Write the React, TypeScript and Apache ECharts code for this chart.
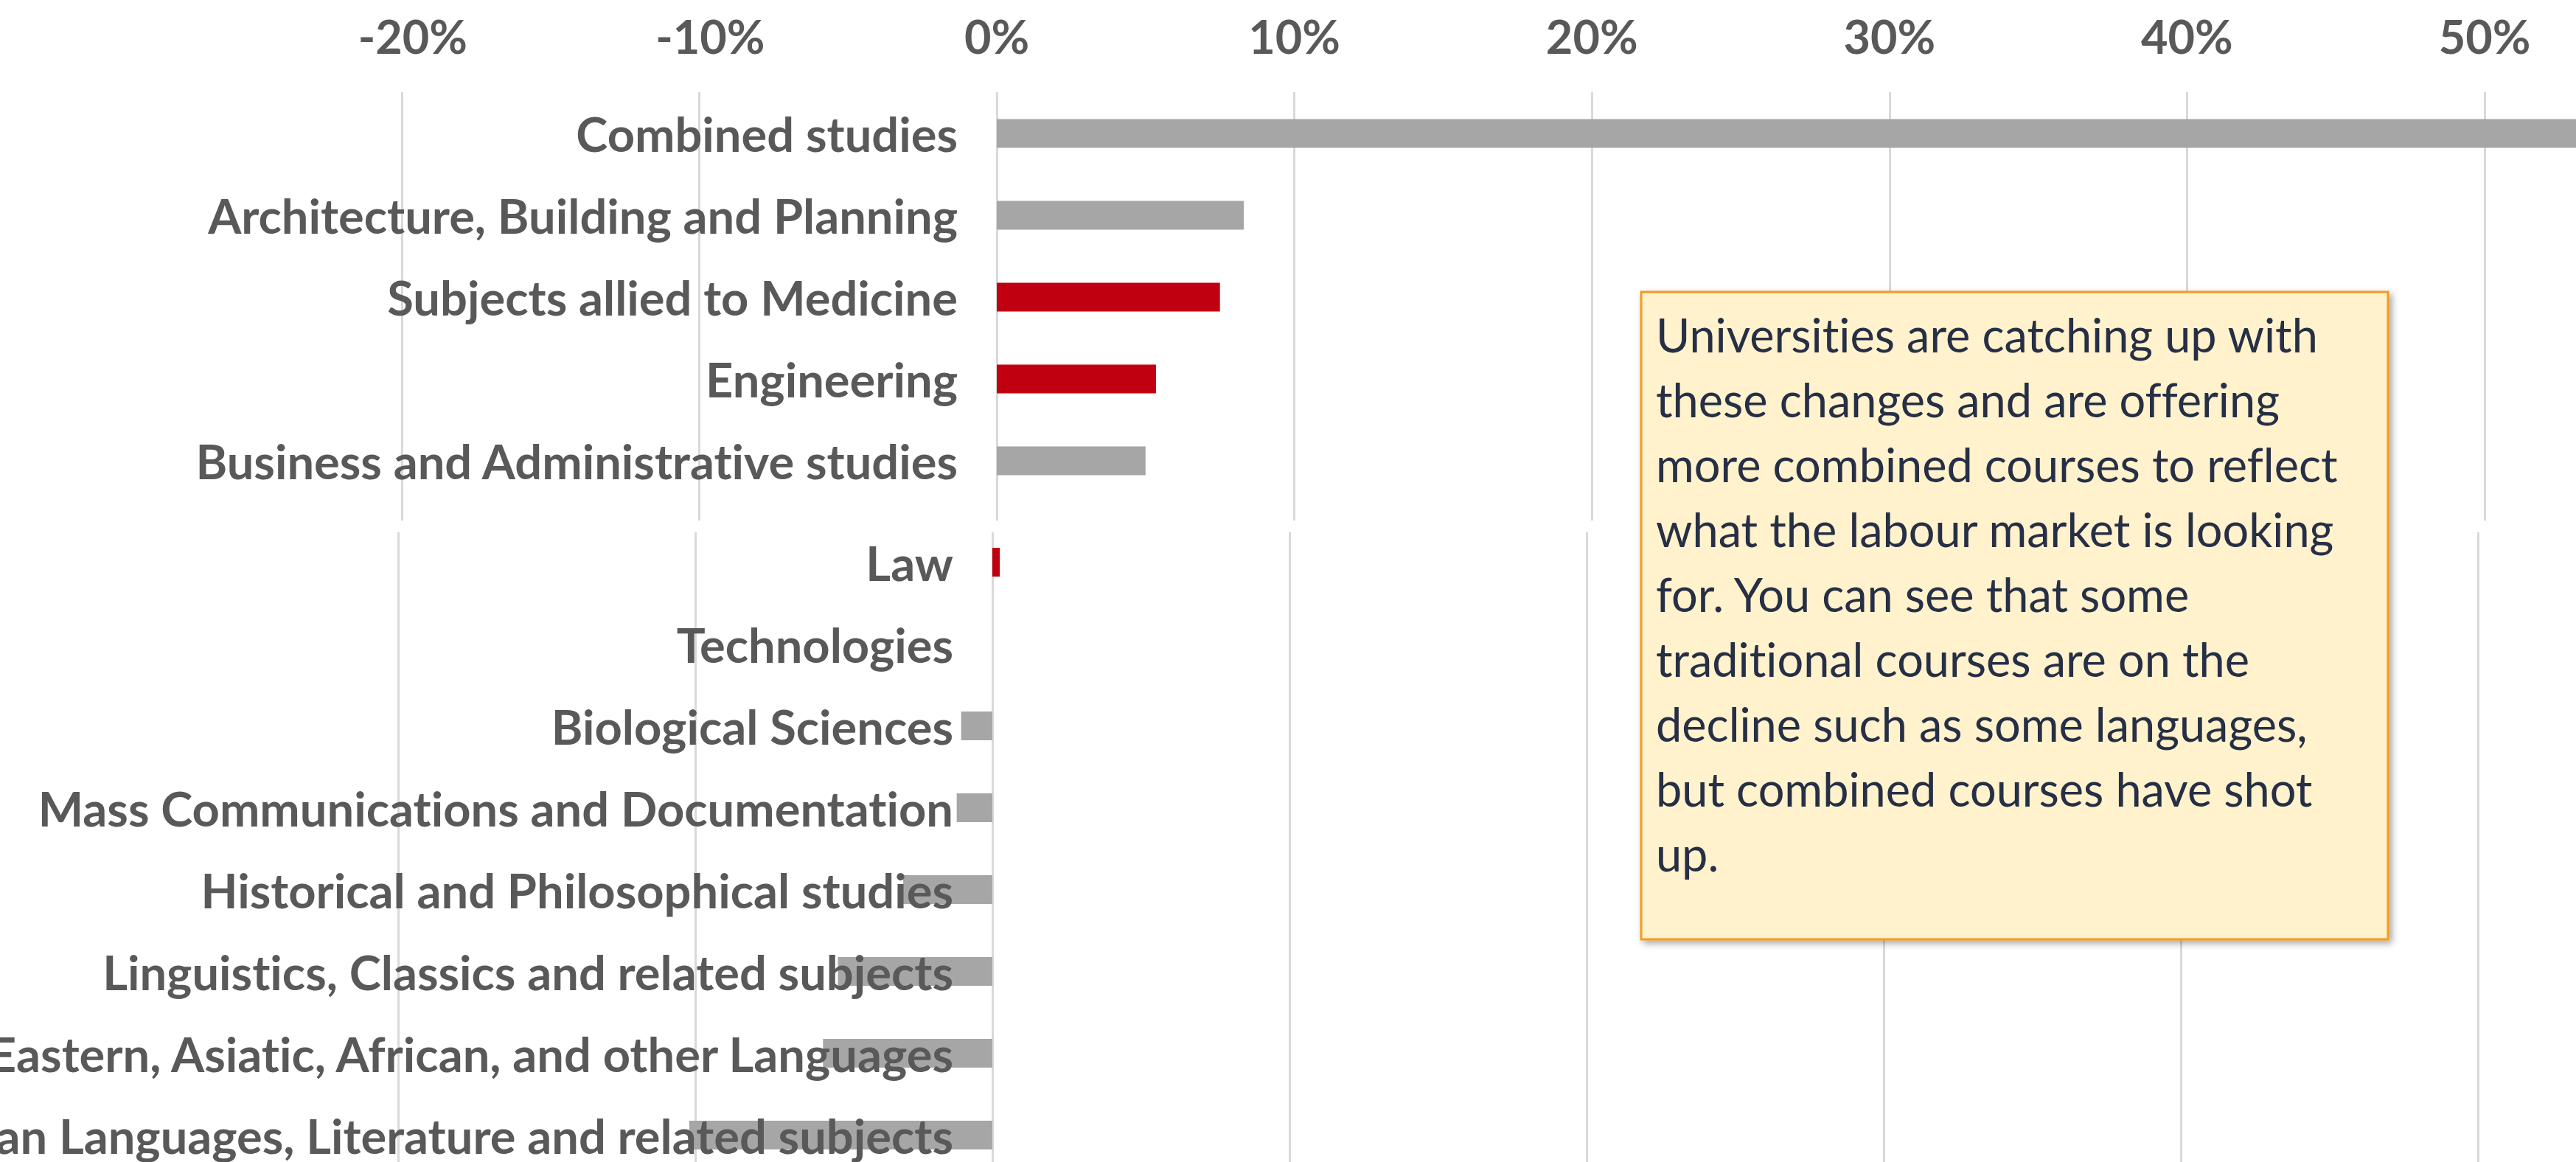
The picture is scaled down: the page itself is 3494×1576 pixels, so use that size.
import React, { useEffect, useRef } from "react";
import * as echarts from "echarts";

// ---- Data ----
const topCategories = [
  "Combined studies",
  "Architecture, Building and Planning",
  "Subjects allied to Medicine",
  "Engineering",
  "Business and Administrative studies",
];
const topValues = [60, 8.3, 7.5, 5.35, 5.0];

const bottomCategories = [
  "Law",
  "Technologies",
  "Biological Sciences",
  "Mass Communications and Documentation",
  "Historical and Philosophical studies",
  "Linguistics, Classics and related subjects",
  "Eastern, Asiatic, African, and other Languages",
  "European Languages, Literature and related subjects",
];
const bottomValues = [0.25, 0, -1.05, -1.2, -3.0, -5.2, -5.7, -10.2];

const highlighted = ["Subjects allied to Medicine", "Engineering", "Law"];

const tickMin = -30;
const tickMax = 60;
const tickStep = 10;

const noteLines = [
  "Universities are catching up with",
  "these changes and are offering",
  "more combined courses to reflect",
  "what the labour market is looking",
  "for. You can see that some",
  "traditional courses are on the",
  "decline such as some languages,",
  "but combined courses have shot",
  "up.",
];

const GRAY = "#a6a6a6";
const RED = "#c00010";
const LABEL = "#595959";
const GRID = "#d9d9d9";
const FONT = "Lato";

export default function App() {
  const ref = useRef<HTMLDivElement>(null);

  useEffect(() => {
    if (!ref.current) return;
    const chart = echarts.init(ref.current, null, { renderer: "svg" });

    const W = 3494;
    // top section: 0% at 1352, 10% = 403.6 px
    const topZero = 1352;
    const topStep = 403.6;
    const topLeft = topZero + (tickMin / tickStep) * topStep;
    const topRight = W - (topZero + (tickMax / tickStep) * topStep);
    // bottom section: 0% at 1346, 10% = 403 px
    const botZero = 1346;
    const botStep = 403;
    const botLeft = botZero + (tickMin / tickStep) * botStep;
    const botRight = W - (botZero + (tickMax / tickStep) * botStep);

    const valueAxisBase = {
      type: "value" as const,
      min: tickMin,
      max: tickMax,
      interval: tickStep,
      axisLine: { show: false, onZero: false },
      axisTick: { show: false },
    };

    const colorFor = (cats: string[]) => (p: any) =>
      highlighted.includes(cats[p.dataIndex]) ? RED : GRAY;

    const gridBase = { containLabel: false, outerBoundsMode: "none" };

    const catLabel = {
      interval: 0,
      margin: 53,
      fontFamily: FONT,
      fontWeight: "bold",
      fontSize: 65,
      color: LABEL,
    };

    const option: any = {
      animation: false,
      backgroundColor: "#ffffff",
      grid: [
        // 0: top gridlines
        { ...gridBase, left: topLeft, right: topRight, top: 125, height: 581 },
        // 1: top bars
        { ...gridBase, left: topLeft, right: topRight, top: 125.5, height: 555 },
        // 2: bottom gridlines
        { ...gridBase, left: botLeft, right: botRight, top: 722, height: 880 },
        // 3: bottom bars
        { ...gridBase, left: botLeft, right: botRight, top: 707, height: 888 },
      ],
      xAxis: [
        {
          ...valueAxisBase,
          gridIndex: 0,
          position: "top",
          splitLine: {
            show: true,
            showMinLine: false,
            lineStyle: { color: GRID, width: 3 },
          },
          axisLabel: {
            show: true,
            showMinLabel: false,
            showMaxLabel: false,
            formatter: (v: number) => (v < 0 ? `{neg|${v}%}` : `${v}%`),
            fontFamily: FONT,
            fontWeight: "bold",
            fontSize: 63,
            color: LABEL,
            verticalAlign: "middle",
            margin: 77,
            rich: {
              neg: {
                fontFamily: FONT,
                fontWeight: "bold",
                fontSize: 63,
                color: LABEL,
                padding: [0, 0, 0, 30],
              },
            },
          },
        },
        { ...valueAxisBase, gridIndex: 1, splitLine: { show: false }, axisLabel: { show: false } },
        {
          ...valueAxisBase,
          gridIndex: 2,
          splitLine: {
            show: true,
            showMinLine: false,
            lineStyle: { color: GRID, width: 3 },
          },
          axisLabel: { show: false },
        },
        { ...valueAxisBase, gridIndex: 3, splitLine: { show: false }, axisLabel: { show: false } },
      ],
      yAxis: [
        { type: "value", gridIndex: 0, min: 0, max: 1, show: false },
        {
          type: "category",
          gridIndex: 1,
          data: topCategories,
          inverse: true,
          z: 5,
          offset: -(topZero - topLeft),
          axisLine: { show: false, onZero: false },
          axisTick: { show: false },
          axisLabel: catLabel,
        },
        { type: "value", gridIndex: 2, min: 0, max: 1, show: false },
        {
          type: "category",
          gridIndex: 3,
          data: bottomCategories,
          inverse: true,
          z: 5,
          offset: -(botZero - botLeft),
          axisLine: { show: false, onZero: false },
          axisTick: { show: false },
          axisLabel: catLabel,
        },
      ],
      series: [
        {
          type: "bar",
          xAxisIndex: 1,
          yAxisIndex: 1,
          data: topValues,
          barWidth: 39,
          itemStyle: { color: colorFor(topCategories) },
        },
        {
          type: "bar",
          xAxisIndex: 3,
          yAxisIndex: 3,
          data: bottomValues,
          barWidth: 39,
          itemStyle: { color: colorFor(bottomCategories) },
        },
      ],
      graphic: [
        {
          type: "rect",
          z: 100,
          shape: { x: 2226, y: 396, width: 1013, height: 878 },
          style: {
            fill: "#fff2cc",
            stroke: "#f59a1b",
            lineWidth: 3,
            shadowBlur: 10,
            shadowColor: "rgba(0,0,0,0.35)",
            shadowOffsetX: 4,
            shadowOffsetY: 4,
          },
        },
        {
          type: "text",
          z: 101,
          x: 2246,
          y: 409,
          style: {
            text: noteLines.join("\n"),
            fontFamily: FONT,
            fontSize: 63,
            lineHeight: 88,
            fill: "#262f45",
            verticalAlign: "top",
            align: "left",
          },
        },
      ],
    };

    chart.setOption(option);
    return () => chart.dispose();
  }, []);

  return (
    <div
      ref={ref}
      style={{
        position: "absolute",
        left: 0,
        top: 0,
        width: 3494,
        height: 1576,
        fontVariantLigatures: "none",
        fontFeatureSettings: '"liga" 0, "clig" 0',
      }}
    />
  );
}
